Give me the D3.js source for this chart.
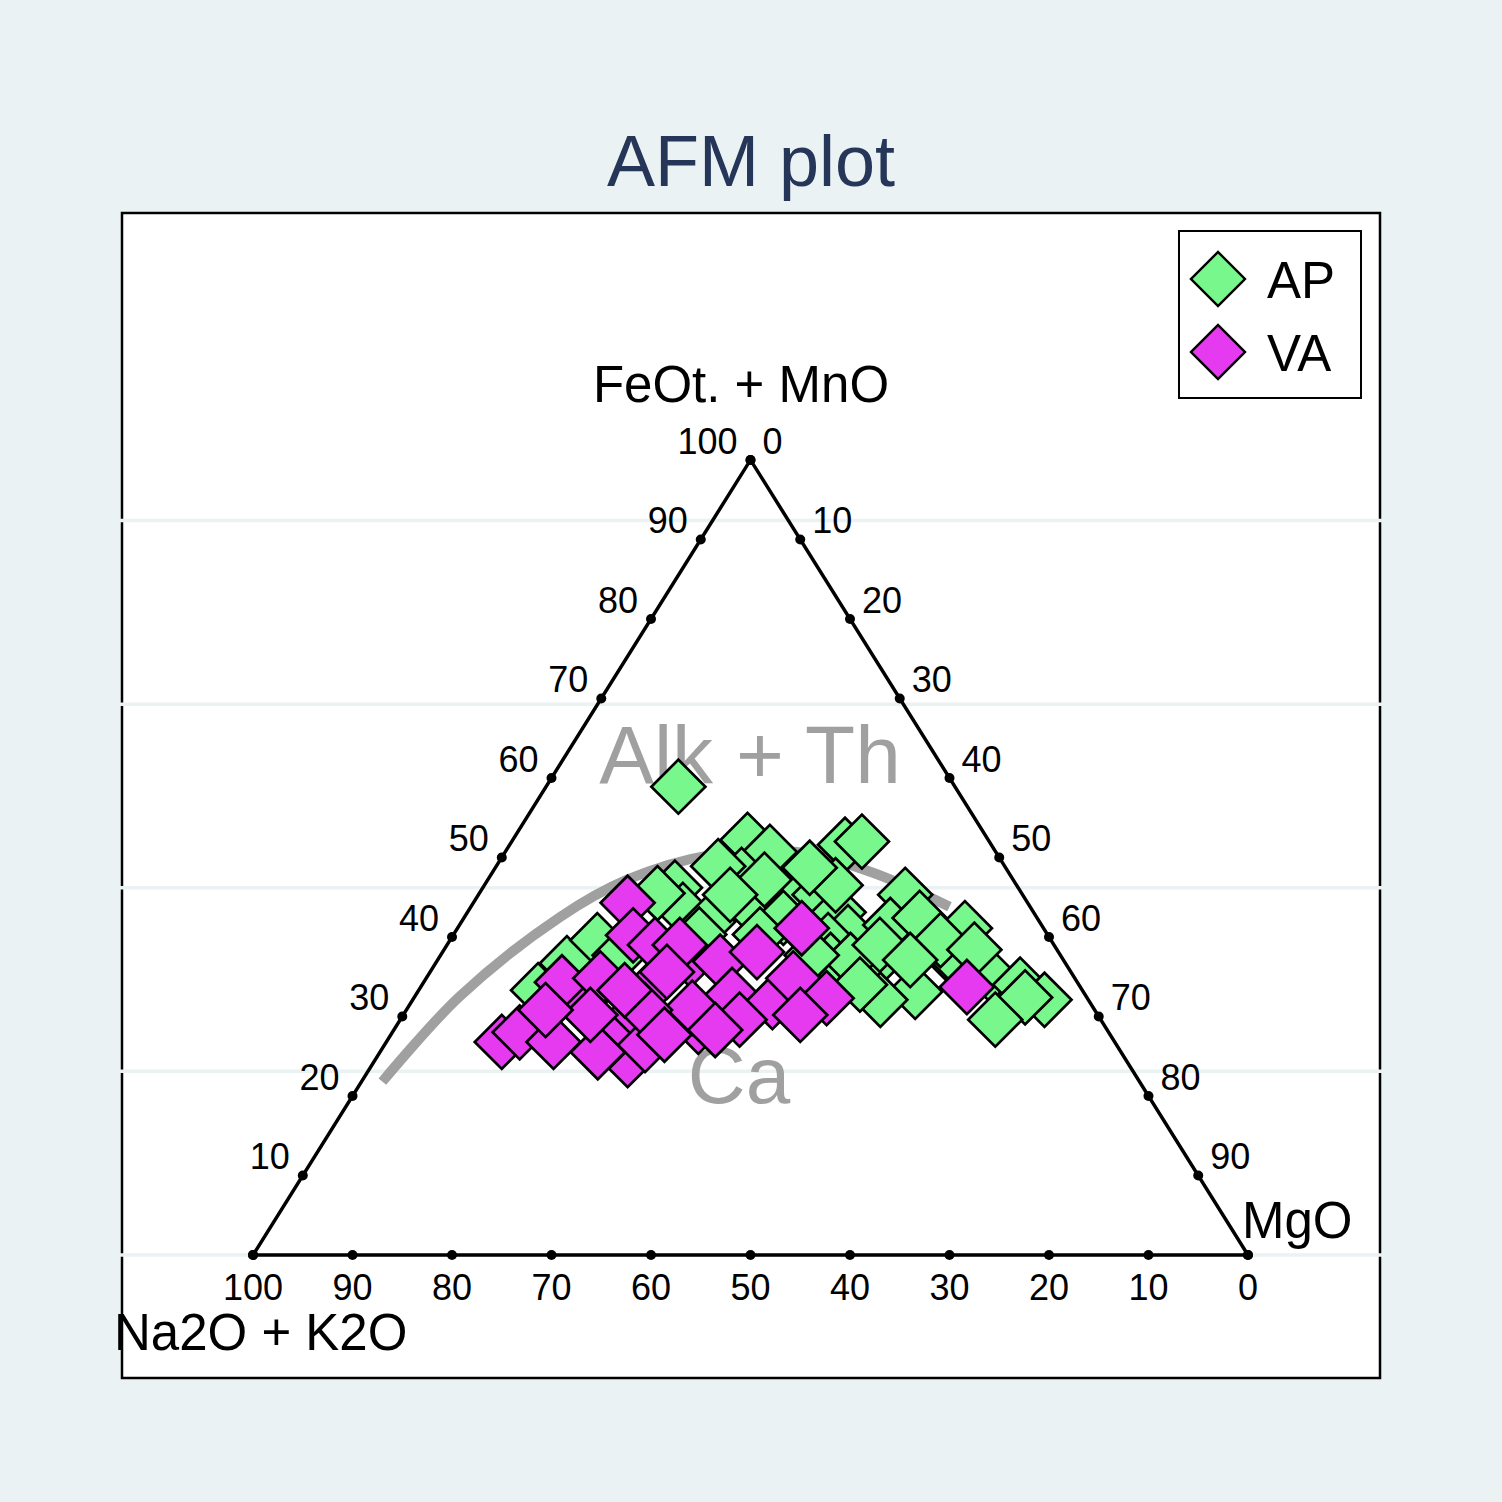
<!DOCTYPE html>
<html>
<head>
<meta charset="utf-8">
<script src="https://cdn.jsdelivr.net/npm/d3@7"></script>
<style>
  body { margin: 0; background: #eaf2f3; }
  svg { display: block; }
</style>
</head>
<body>
<svg id="chart" width="1502" height="1502"></svg>
<script>
// AFM ternary: A = Na2O + K2O, F = FeOt. + MnO, M = MgO (wt%)
const apA = [27.8, 24.2, 22.7, 14.7, 12.8, 27.0, 28.8, 22.7, 34.5, 35.1, 33.3, 28.2, 25.5, 20.4, 19.6, 19.9, 22.4,
  11.8, 15.2, 11.8, 7.9, 11.4, 10.7, 8.3, 19.9, 16.9, 20.9, 5.9, 4.4, 6.2, 10.6, 50.1, 54.7, 45.6, 36.6, 44.3,
  23.4, 21.4, 25.0, 25.0, 29.4, 35.0, 28.9, 17.5, 11.1, 8.3, 15.4, 22.0, 18.2, 19.7];
const apF = [58.9, 52.2, 50.7, 51.6, 52.0, 47.8, 48.9, 46.2, 46.2, 43.4, 41.9, 44.0, 42.4, 45.3, 43.1, 40.6, 39.6,
  45.3, 41.5, 42.4, 41.1, 38.1, 36.9, 35.2, 36.1, 33.1, 32.1, 34.0, 32.1, 32.4, 29.6, 36.7, 33.3, 39.6, 45.5, 37.7,
  37.1, 37.1, 37.7, 47.2, 45.3, 40.3, 40.3, 39.0, 39.6, 38.4, 37.1, 34.0, 46.5, 48.7];
const apM = [13.3, 23.6, 26.6, 33.7, 35.2, 25.2, 22.3, 31.1, 19.3, 21.5, 24.8, 27.8, 32.1, 34.3, 37.3, 39.5, 38.0,
  42.9, 43.3, 45.8, 51.0, 50.5, 52.4, 56.5, 44.0, 50.0, 47.0, 60.1, 63.5, 61.4, 59.8, 13.2, 12.0, 14.8, 17.9, 18.0,
  39.5, 41.5, 37.3, 27.8, 25.3, 24.7, 30.8, 43.5, 49.3, 53.3, 47.5, 44.0, 35.3, 31.6];

const vaA = [40.2, 41.7, 61.6, 59.2, 56.4, 50.9, 51.8, 47.8, 50.1, 41.7, 47.7, 37.5, 34.6, 40.9, 35.5, 31.9, 28.3,
  26.2, 30.3, 40.3, 24.3, 11.4, 40.1, 50.6, 47.4, 52.6, 36.3, 29.9, 37.6, 51.0, 45.2, 39.4, 44.8, 46.0, 55.2, 40.6];
const vaF = [44.3, 40.2, 26.8, 28.0, 26.8, 32.1, 34.3, 29.3, 24.5, 34.8, 34.8, 37.1, 36.9, 28.7, 32.7, 31.8, 34.8,
  32.3, 38.1, 31.1, 41.1, 33.7, 39.0, 27.0, 26.4, 25.5, 29.6, 30.2, 39.0, 30.2, 30.8, 28.3, 27.7, 33.3, 30.8, 35.6];
const vaM = [15.5, 18.1, 11.6, 12.8, 16.8, 17.0, 13.9, 22.9, 25.4, 23.5, 17.5, 25.4, 28.5, 30.4, 31.8, 36.3, 36.9,
  41.5, 31.6, 28.6, 34.6, 54.9, 20.9, 22.4, 26.2, 21.9, 34.1, 39.9, 23.4, 18.8, 24.0, 32.3, 27.5, 20.7, 14.0, 23.8];

// Irvine & Baragar (1971) tholeiitic / calc-alkaline boundary
const lineA = [76.1, 63.0, 47.9, 38.8, 28.9, 20.0, 13.7, 8.1];
const lineF = [21.8, 32.5, 42.5, 47.2, 50.3, 50.7, 48.1, 43.8];
const lineM = [2.1, 4.5, 9.6, 14.0, 20.8, 29.3, 38.2, 48.1];

const ticks = [0, 10, 20, 30, 40, 50, 60, 70, 80, 90, 100];
const gridY = [0, 0.2, 0.4, 0.6, 0.8];

const groups = ["AP", "VA"];
const colors = ["#78f88c", "#e63af0"];

const font = "Helvetica, Arial, 'Liberation Sans', sans-serif";
const H = Math.sqrt(3) / 2;

const svg = d3.select("#chart");

// plot region in pixels
const pr = { x0: 122, y0: 213, x1: 1380, y1: 1378 };

const x = d3.scaleLinear().domain([-0.1317, 1.1327]).range([pr.x0, pr.x1]);
const y = d3.scaleLinear().domain([-0.134, 1.135]).range([pr.y1, pr.y0]);

// ternary (A, F, M) -> pixel
function tern(a, f, m) {
	const s = a + f + m;
	const fm = f / s, mm = m / s;
	return [x(mm + fm / 2), y(fm * H)];
}

svg.append("rect")
	.attr("width", 1502).attr("height", 1502)
	.attr("fill", "#eaf2f3");

svg.append("text")
	.attr("x", 751).attr("y", 186)
	.attr("text-anchor", "middle")
	.style("font", `72px ${font}`)
	.attr("fill", "#263659")
	.text("AFM plot");

svg.append("rect")
	.attr("x", pr.x0).attr("y", pr.y0)
	.attr("width", pr.x1 - pr.x0).attr("height", pr.y1 - pr.y0)
	.attr("fill", "#fff")
	.attr("stroke", "#000")
	.attr("stroke-width", 2.5);

// horizontal grid (drawn over the frame, as in the original)
svg.append("g")
	.selectAll("line")
	.data(gridY)
	.join("line")
	.attr("x1", pr.x0 - 2).attr("x2", pr.x1 + 2)
	.attr("y1", d => y(d)).attr("y2", d => y(d))
	.attr("stroke", "#eaf2f3")
	.attr("stroke-width", 3.5);

// triangle
const corners = [tern(100, 0, 0), tern(0, 100, 0), tern(0, 0, 100)];
svg.append("path")
	.attr("d", d3.line()(corners) + "Z")
	.attr("fill", "none")
	.attr("stroke", "#000")
	.attr("stroke-width", 3.5)
	.attr("stroke-linejoin", "miter");

const tickG = svg.append("g").style("font", `36px ${font}`).attr("fill", "#000");

// left side: F from 0 (bottom-left) to 100 (apex)
ticks.forEach(v => {
	const p = tern(100 - v, v, 0);
	tickG.append("circle").attr("cx", p[0]).attr("cy", p[1]).attr("r", 5);
	if (v > 0) {
		tickG.append("text")
			.attr("x", p[0] - 13).attr("y", p[1] - 6)
			.attr("text-anchor", "end")
			.text(v);
	}
});

// right side: M from 0 (apex) down to MgO corner
ticks.forEach(v => {
	const p = tern(0, 100 - v, v);
	tickG.append("circle").attr("cx", p[0]).attr("cy", p[1]).attr("r", 5);
	if (v < 100) {
		tickG.append("text")
			.attr("x", p[0] + 12).attr("y", p[1] - 6)
			.text(v);
	}
});

// bottom: A from 100 (left) to 0 (right)
ticks.forEach(v => {
	const p = tern(v, 0, 100 - v);
	tickG.append("circle").attr("cx", p[0]).attr("cy", p[1]).attr("r", 5);
	tickG.append("text")
		.attr("x", p[0]).attr("y", p[1] + 45)
		.attr("text-anchor", "middle")
		.text(v);
});

// vertex titles
const titleG = svg.append("g").style("font", `51px ${font}`).attr("fill", "#000");
titleG.append("text").attr("x", 741).attr("y", 402).attr("text-anchor", "middle").text("FeOt. + MnO");
titleG.append("text").attr("x", 1242).attr("y", 1238).text("MgO");
titleG.append("text").attr("x", 114).attr("y", 1350).text("Na2O + K2O");

// boundary curve
const linePts = lineA.map((a, i) => tern(a, lineF[i], lineM[i]));
svg.append("path")
	.attr("d", d3.line().curve(d3.curveCatmullRom)(linePts))
	.attr("fill", "none")
	.attr("stroke", "#a0a0a0")
	.attr("stroke-width", 10);

// field labels
const fieldG = svg.append("g").attr("fill", "#a0a0a0").attr("text-anchor", "middle");
fieldG.append("text").attr("x", 750).attr("y", 783).style("font", `82px ${font}`).text("Alk + Th");
fieldG.append("text").attr("x", 739).attr("y", 1103).style("font", `80px ${font}`).text("Ca");

// markers
const diamond = d3.symbol().type(d3.symbolSquare).size(1460)();
const series = [
	{ name: groups[0], A: apA, F: apF, M: apM, color: colors[0] },
	{ name: groups[1], A: vaA, F: vaF, M: vaM, color: colors[1] }
];

series.forEach(s => {
	svg.append("g")
		.selectAll("path")
		.data(s.A.map((a, i) => tern(a, s.F[i], s.M[i])))
		.join("path")
		.attr("d", diamond)
		.attr("transform", d => `translate(${d[0]},${d[1]}) rotate(45)`)
		.attr("fill", s.color)
		.attr("stroke", "#000")
		.attr("stroke-width", 2.7);
});

// legend
const leg = svg.append("g");
leg.append("rect")
	.attr("x", 1179).attr("y", 231)
	.attr("width", 182).attr("height", 167)
	.attr("fill", "#fff")
	.attr("stroke", "#000")
	.attr("stroke-width", 2);

const legItem = leg.selectAll("g.item")
	.data(series)
	.join("g")
	.attr("class", "item")
	.attr("transform", (d, i) => `translate(1218,${279 + i * 73})`);

legItem.append("path")
	.attr("d", diamond)
	.attr("transform", "rotate(45)")
	.attr("fill", d => d.color)
	.attr("stroke", "#000")
	.attr("stroke-width", 2.4);

legItem.append("text")
	.attr("x", 49).attr("y", 19)
	.style("font", `51px ${font}`)
	.attr("fill", "#000")
	.text(d => d.name);
</script>
</body>
</html>
